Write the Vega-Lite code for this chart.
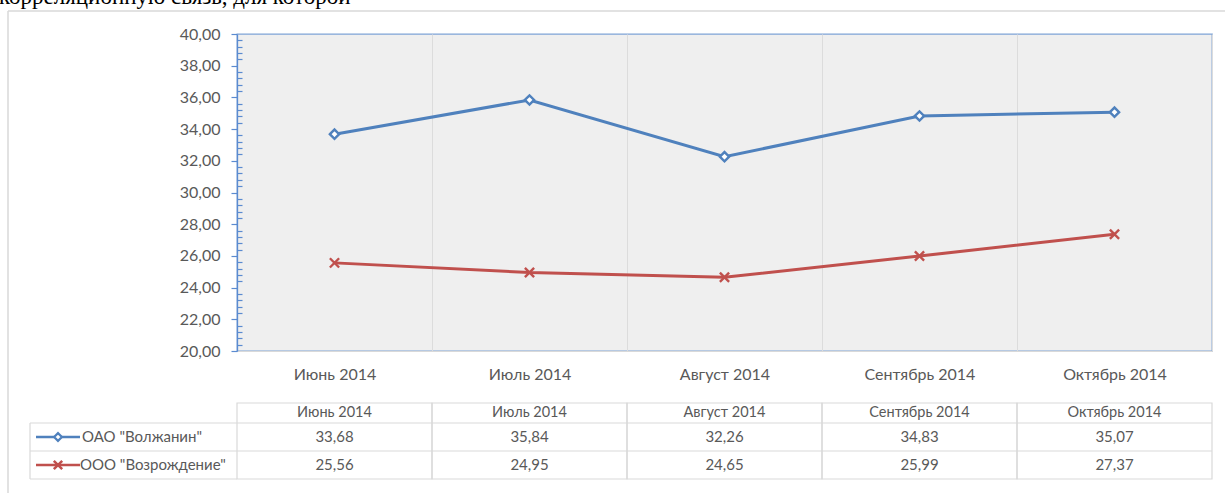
{
"$schema": "https://vega.github.io/schema/vega-lite/v6.json",
"width": 975,
"height": 317,
"autosize": {"type": "none"},
"padding": {"left": 237, "top": 34, "right": 13, "bottom": 142},
"background": "white",
"config": {
  "font": "Lato",
  "view": {"stroke": "#7ea3d6", "strokeWidth": 1.3, "fill": "#efefef"},
  "locale": {"number": {"decimal": ",", "thousands": " ", "grouping": [3], "currency": ["", ""]}}
},
"data": {"values": [
  {"month": "Июнь 2014", "series": "ОАО \"Волжанин\"", "value": 33.68},
  {"month": "Июль 2014", "series": "ОАО \"Волжанин\"", "value": 35.84},
  {"month": "Август 2014", "series": "ОАО \"Волжанин\"", "value": 32.26},
  {"month": "Сентябрь 2014", "series": "ОАО \"Волжанин\"", "value": 34.83},
  {"month": "Октябрь 2014", "series": "ОАО \"Волжанин\"", "value": 35.07},
  {"month": "Июнь 2014", "series": "ООО \"Возрождение\"", "value": 25.56},
  {"month": "Июль 2014", "series": "ООО \"Возрождение\"", "value": 24.95},
  {"month": "Август 2014", "series": "ООО \"Возрождение\"", "value": 24.65},
  {"month": "Сентябрь 2014", "series": "ООО \"Возрождение\"", "value": 25.99},
  {"month": "Октябрь 2014", "series": "ООО \"Возрождение\"", "value": 27.37}
]},
"layer": [
  {
    "mark": {"type": "line", "strokeWidth": 3},
    "encoding": {
      "x": {"field": "month", "type": "nominal", "sort": null,
        "scale": {"type": "band", "domain": ["Июнь 2014", "Июль 2014", "Август 2014", "Сентябрь 2014", "Октябрь 2014"], "paddingInner": 0, "paddingOuter": 0},
        "axis": {"title": null, "ticks": false, "domainColor": "#d9d9d9", "domainWidth": 1.2, "grid": true, "gridColor": "#dcdcdc", "gridWidth": 1, "tickBand": "extent", "labelFontSize": 16, "labelColor": "#595959", "labelPadding": 15, "labelAngle": 0}},
      "y": {"field": "value", "type": "quantitative",
        "scale": {"domain": [20, 40], "zero": false, "nice": false},
        "axis": {"title": null,
          "values": [20,20.4,20.8,21.2,21.6,22,22.4,22.8,23.2,23.6,24,24.4,24.8,25.2,25.6,26,26.4,26.8,27.2,27.6,28,28.4,28.8,29.2,29.6,30,30.4,30.8,31.2,31.6,32,32.4,32.8,33.2,33.6,34,34.4,34.8,35.2,35.6,36,36.4,36.8,37.2,37.6,38,38.4,38.8,39.2,39.6,40],
          "tickCount": 100,
          "format": ".2f",
          "labelExpr": "datum.value % 2 === 0 ? datum.label : ''",
          "tickSize": {"condition": {"test": "datum.value % 2 === 0", "value": 6}, "value": -5},
          "tickColor": "#5b8bd0", "tickWidth": 1.2, "domainColor": "#5b8bd0", "domainWidth": 1.3,
          "labelFontSize": 16, "labelColor": "#595959", "labelPadding": 11, "labelOverlap": false, "labelFlush": false, "grid": false}},
      "color": {"field": "series", "type": "nominal", "scale": {"domain": ["ОАО \"Волжанин\"", "ООО \"Возрождение\""], "range": ["#4f81bd", "#c0504d"]}, "legend": null}
    }
  },
  {
    "mark": {"type": "point", "filled": false, "fill": "white", "strokeWidth": 2.4, "size": 85, "opacity": 1},
    "encoding": {
      "x": {"field": "month", "type": "nominal"},
      "y": {"field": "value", "type": "quantitative"},
      "color": {"field": "series", "type": "nominal", "legend": null},
      "shape": {"field": "series", "type": "nominal", "scale": {"domain": ["ОАО \"Волжанин\"", "ООО \"Возрождение\""], "range": ["diamond", "M-1,-1L1,1M-1,1L1,-1"]}, "legend": null}
    }
  },
  {
    "transform": [{"filter": {"field": "series", "equal": "ОАО \"Волжанин\""}}],
    "mark": {"type": "rect", "fill": null, "fillOpacity": 0, "stroke": "#d9d9d9", "strokeWidth": 1.2},
    "encoding": {
      "x": {"field": "month", "type": "nominal"},
      "y": {"datum": 16.719},
      "y2": {"datum": 11.924}
    }
  },
  {
    "transform": [{"filter": {"and": [{"field": "series", "equal": "ОАО \"Волжанин\""}, {"field": "month", "equal": "Июнь 2014"}]}}],
    "mark": {"type": "rule", "color": "#d9d9d9", "strokeWidth": 1.2, "xOffset": -207},
    "encoding": {
      "x": {"field": "month", "type": "nominal", "bandPosition": 0},
      "y": {"datum": 15.457},
      "y2": {"datum": 11.924}
    }
  },
  {
    "transform": [{"filter": {"and": [{"field": "series", "equal": "ОАО \"Волжанин\""}, {"field": "month", "equal": "Июнь 2014"}]}}],
    "mark": {"type": "rule", "color": "#d9d9d9", "strokeWidth": 1.2, "xOffset": -207},
    "encoding": {
      "x": {"field": "month", "type": "nominal", "bandPosition": 0},
      "x2": {"datum": "Октябрь 2014", "bandPosition": 1},
      "y": {"datum": 15.457}
    }
  },
  {
    "transform": [{"filter": {"and": [{"field": "series", "equal": "ОАО \"Волжанин\""}, {"field": "month", "equal": "Июнь 2014"}]}}],
    "mark": {"type": "rule", "color": "#d9d9d9", "strokeWidth": 1.2, "xOffset": -207},
    "encoding": {
      "x": {"field": "month", "type": "nominal", "bandPosition": 0},
      "x2": {"datum": "Октябрь 2014", "bandPosition": 1},
      "y": {"datum": 13.691}
    }
  },
  {
    "transform": [{"filter": {"and": [{"field": "series", "equal": "ОАО \"Волжанин\""}, {"field": "month", "equal": "Июнь 2014"}]}}],
    "mark": {"type": "rule", "color": "#d9d9d9", "strokeWidth": 1.2, "xOffset": -207},
    "encoding": {
      "x": {"field": "month", "type": "nominal", "bandPosition": 0},
      "x2": {"datum": "Июнь 2014", "bandPosition": 0},
      "y": {"datum": 11.924}
    }
  },
  {
    "transform": [{"filter": {"and": [{"field": "series", "equal": "ОАО \"Волжанин\""}, {"field": "month", "equal": "Июнь 2014"}]}}],
    "mark": {"type": "rule", "color": "#d9d9d9", "strokeWidth": 1.5, "xOffset": -229, "x2Offset": 40},
    "encoding": {
      "x": {"field": "month", "type": "nominal", "bandPosition": 0},
      "x2": {"datum": "Октябрь 2014", "bandPosition": 1},
      "y": {"datum": 41.451}
    }
  },
  {
    "transform": [{"filter": {"and": [{"field": "series", "equal": "ОАО \"Волжанин\""}, {"field": "month", "equal": "Июнь 2014"}]}}],
    "mark": {"type": "rule", "color": "#d9d9d9", "strokeWidth": 1.5, "xOffset": -229},
    "encoding": {
      "x": {"field": "month", "type": "nominal", "bandPosition": 0},
      "y": {"datum": 41.451},
      "y2": {"datum": 5}
    }
  },
  {
    "transform": [{"filter": {"field": "series", "equal": "ОАО \"Волжанин\""}}],
    "mark": {"type": "text", "fontSize": 14.5, "color": "#595959", "baseline": "middle"},
    "encoding": {
      "x": {"field": "month", "type": "nominal"},
      "y": {"datum": 16.088},
      "text": {"field": "month", "type": "nominal"}
    }
  },
  {
    "transform": [{"filter": {"field": "series", "equal": "ОАО \"Волжанин\""}}],
    "mark": {"type": "text", "fontSize": 15, "color": "#595959", "baseline": "middle"},
    "encoding": {
      "x": {"field": "month", "type": "nominal"},
      "y": {"datum": 14.574},
      "text": {"field": "value", "type": "quantitative", "format": ".2f"}
    }
  },
  {
    "transform": [{"filter": {"field": "series", "equal": "ООО \"Возрождение\""}}],
    "mark": {"type": "text", "fontSize": 15, "color": "#595959", "baseline": "middle"},
    "encoding": {
      "x": {"field": "month", "type": "nominal"},
      "y": {"datum": 12.808},
      "text": {"field": "value", "type": "quantitative", "format": ".2f"}
    }
  },
  {
    "transform": [{"filter": {"and": [{"field": "series", "equal": "ОАО \"Волжанин\""}, {"field": "month", "equal": "Июнь 2014"}]}}],
    "mark": {"type": "point", "shape": "stroke", "size": 1936, "strokeWidth": 2.5, "color": "#4f81bd", "opacity": 1, "xOffset": -179},
    "encoding": {
      "x": {"field": "month", "type": "nominal", "bandPosition": 0},
      "y": {"datum": 14.574}
    }
  },
  {
    "transform": [{"filter": {"and": [{"field": "series", "equal": "ОАО \"Волжанин\""}, {"field": "month", "equal": "Июнь 2014"}]}}],
    "mark": {"type": "point", "shape": "diamond", "size": 60, "strokeWidth": 2.2, "color": "#4f81bd", "fill": "white", "filled": false, "opacity": 1, "xOffset": -179},
    "encoding": {
      "x": {"field": "month", "type": "nominal", "bandPosition": 0},
      "y": {"datum": 14.574}
    }
  },
  {
    "transform": [{"filter": {"and": [{"field": "series", "equal": "ООО \"Возрождение\""}, {"field": "month", "equal": "Июнь 2014"}]}}],
    "mark": {"type": "point", "shape": "stroke", "size": 1936, "strokeWidth": 2.5, "color": "#c0504d", "opacity": 1, "xOffset": -179},
    "encoding": {
      "x": {"field": "month", "type": "nominal", "bandPosition": 0},
      "y": {"datum": 12.808}
    }
  },
  {
    "transform": [{"filter": {"and": [{"field": "series", "equal": "ООО \"Возрождение\""}, {"field": "month", "equal": "Июнь 2014"}]}}],
    "mark": {"type": "point", "shape": "M-1,-1L1,1M-1,1L1,-1", "size": 70, "strokeWidth": 2.5, "color": "#c0504d", "filled": false, "opacity": 1, "xOffset": -179},
    "encoding": {
      "x": {"field": "month", "type": "nominal", "bandPosition": 0},
      "y": {"datum": 12.808}
    }
  },
  {
    "transform": [{"filter": {"field": "month", "equal": "Июнь 2014"}}, {"filter": {"field": "series", "equal": "ОАО \"Волжанин\""}}],
    "mark": {"type": "text", "fontSize": 15, "color": "#595959", "baseline": "middle", "align": "left", "xOffset": -155},
    "encoding": {
      "x": {"field": "month", "type": "nominal", "bandPosition": 0},
      "y": {"datum": 14.574},
      "text": {"field": "series", "type": "nominal"}
    }
  },
  {
    "transform": [{"filter": {"field": "month", "equal": "Июнь 2014"}}, {"filter": {"field": "series", "equal": "ООО \"Возрождение\""}}],
    "mark": {"type": "text", "fontSize": 15, "color": "#595959", "baseline": "middle", "align": "left", "xOffset": -157},
    "encoding": {
      "x": {"field": "month", "type": "nominal", "bandPosition": 0},
      "y": {"datum": 12.808},
      "text": {"field": "series", "type": "nominal"}
    }
  },
  {
    "transform": [{"filter": {"and": [{"field": "series", "equal": "ОАО \"Волжанин\""}, {"field": "month", "equal": "Июнь 2014"}]}}],
    "mark": {"type": "text", "font": "Liberation Serif", "fontSize": 23, "color": "#000000", "baseline": "alphabetic", "align": "left", "xOffset": -238},
    "encoding": {
      "x": {"field": "month", "type": "nominal", "bandPosition": 0},
      "y": {"datum": 41.92},
      "text": {"value": "корреляционную связь, для которой"}
    }
  }
]
}
